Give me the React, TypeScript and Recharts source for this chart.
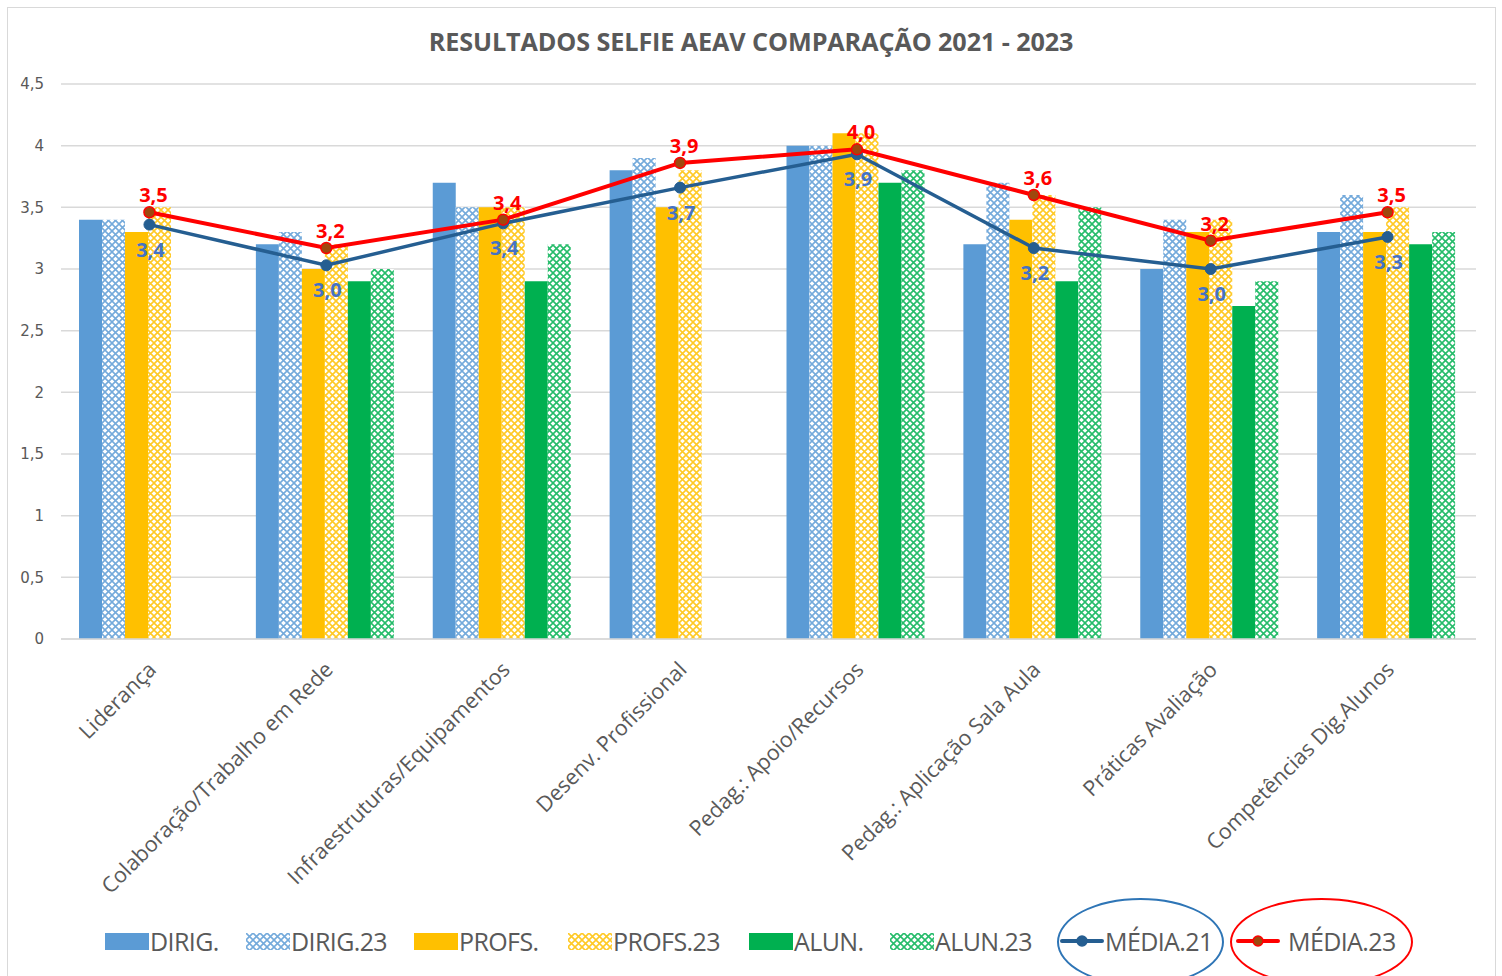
import React from 'react';
import { ComposedChart, Bar, Line, XAxis, YAxis, CartesianGrid, LabelList } from 'recharts';

const categories = [
  'Liderança',
  'Colaboração/Trabalho em Rede',
  'Infraestruturas/Equipamentos',
  'Desenv. Profissional',
  'Pedag.: Apoio/Recursos',
  'Pedag.: Aplicação Sala Aula',
  'Práticas Avaliação',
  'Competências Dig.Alunos',
];
const dirig = [3.4, 3.2, 3.7, 3.8, 4.0, 3.2, 3.0, 3.3];
const dirig23 = [3.4, 3.3, 3.5, 3.9, 4.0, 3.7, 3.4, 3.6];
const profs = [3.3, 3.0, 3.5, 3.5, 4.1, 3.4, 3.3, 3.3];
const profs23 = [3.5, 3.2, 3.5, 3.8, 4.1, 3.6, 3.4, 3.5];
const alun = [null, 2.9, 2.9, null, 3.7, 2.9, 2.7, 3.2];
const alun23 = [null, 3.0, 3.2, null, 3.8, 3.5, 2.9, 3.3];
const media21 = [3.36, 3.03, 3.37, 3.66, 3.93, 3.17, 3.0, 3.26];
const media23 = [3.46, 3.17, 3.4, 3.86, 3.97, 3.6, 3.23, 3.46];
const yTicks = [0, 0.5, 1, 1.5, 2, 2.5, 3, 3.5, 4, 4.5];

const BLUE = '#5B9BD5';
const GOLD = '#FFC000';
const GREEN = '#00B050';
const NAVY = '#255E91';
const RED = '#FF0000';
const GREY = '#595959';

const data = categories.map((name, i) => ({
  name,
  dirig: dirig[i],
  dirig23: dirig23[i],
  profs: profs[i],
  profs23: profs23[i],
  alun: alun[i],
  alun23: alun23[i],
  media21: media21[i],
  media23: media23[i],
}));

const fmt = (v: number) => v.toFixed(1).replace('.', ',');

const Hatch = ({ id, color }: { id: string; color: string }) => (
  <pattern id={id} width="7" height="7" patternUnits="userSpaceOnUse">
    <rect width="7" height="7" fill="#fff" />
    <path d="M0,0 L7,7 M7,0 L0,7" stroke={color} strokeWidth="1.6" opacity="0.85" />
  </pattern>
);

const CategoryTick = ({ x, y, payload }: any) => (
  <text
    x={x + 8}
    y={y + 24}
    transform={`rotate(-45, ${x + 8}, ${y + 24})`}
    textAnchor="end"
    fill={GREY}
    fontSize={21.5}
    fontFamily="'Open Sans', sans-serif"
  >
    {payload.value}
  </text>
);

const TopLabel = ({ x, y, value }: any) => (
  <text x={x + 4} y={y - 10} textAnchor="middle" fill={RED} fontSize={20} fontWeight="bold" fontFamily="'Open Sans', sans-serif">
    {fmt(value)}
  </text>
);

const BottomLabel = ({ x, y, value }: any) => (
  <text x={x + 1} y={y + 32} textAnchor="middle" fill="#4472C4" fontSize={20} fontWeight="bold" fontFamily="'Open Sans', sans-serif">
    {fmt(value)}
  </text>
);

const legendItems = [
  { label: 'DIRIG.', fill: BLUE, left: 105 },
  { label: 'DIRIG.23', fill: 'url(#h-blue)', left: 246 },
  { label: 'PROFS.', fill: GOLD, left: 414 },
  { label: 'PROFS.23', fill: 'url(#h-gold)', left: 568 },
  { label: 'ALUN.', fill: GREEN, left: 749 },
  { label: 'ALUN.23', fill: 'url(#h-green)', left: 890 },
];

const legendText: React.CSSProperties = {
  marginLeft: 1,
  fontFamily: "'Open Sans', sans-serif",
  fontSize: 25,
  color: GREY,
  lineHeight: '30px',
  letterSpacing: -0.6,
};

const LineKey = ({ color, dot }: { color: string; dot: string }) => (
  <svg width="44" height="16" style={{ display: 'block' }}>
    <line x1="2" y1="8" x2="42" y2="8" stroke={color} strokeWidth="4" strokeLinecap="round" />
    <circle cx="22" cy="8" r="5" fill={dot} stroke={color} strokeWidth="1.5" />
  </svg>
);

const App = () => {
  return (
    <div style={{ position: 'absolute', left: 0, top: 0, width: 1502, height: 976, background: '#fff', overflow: 'hidden' }}>
      <svg width="0" height="0" style={{ position: 'absolute' }}>
        <defs>
          <Hatch id="h-blue" color={BLUE} />
          <Hatch id="h-gold" color={GOLD} />
          <Hatch id="h-green" color={GREEN} />
        </defs>
      </svg>
      <div style={{ position: 'absolute', left: 7, top: 7, width: 1489, height: 1000, border: '1.5px solid #D9D9D9', boxSizing: 'border-box' }} />
      <div
        style={{
          position: 'absolute', left: 0, top: 24, width: 1502, textAlign: 'center',
          fontFamily: "'Open Sans', sans-serif", fontWeight: 'bold', fontSize: 25.2, color: GREY,
          letterSpacing: -0.1,
        }}
      >
        RESULTADOS SELFIE AEAV COMPARAÇÃO 2021 - 2023
      </div>
      <div style={{ position: 'absolute', left: 0, top: 0 }}>
        <ComposedChart
          width={1502}
          height={976}
          data={data}
          margin={{ top: 84, right: 26, bottom: 0, left: 0 }}
          barCategoryGap={18}
          barGap={0}
        >
          <CartesianGrid vertical={false} stroke="#D9D9D9" strokeWidth={1.5} />
          <XAxis
            dataKey="name"
            height={337}
            interval={0}
            tickLine={false}
            axisLine={{ stroke: '#D9D9D9', strokeWidth: 1.5 }}
            tick={<CategoryTick />}
          />
          <YAxis
            width={61}
            domain={[0, 4.5]}
            ticks={yTicks}
            axisLine={false}
            tickLine={false}
            tickMargin={11}
            tickFormatter={(v: number) => String(v).replace('.', ',')}
            tick={{ fill: GREY, fontSize: 15, fontFamily: "'DejaVu Sans', sans-serif" }}
          />
          <Bar dataKey="dirig" fill={BLUE} isAnimationActive={false} />
          <Bar dataKey="dirig23" fill="url(#h-blue)" isAnimationActive={false} />
          <Bar dataKey="profs" fill={GOLD} isAnimationActive={false} />
          <Bar dataKey="profs23" fill="url(#h-gold)" isAnimationActive={false} />
          <Bar dataKey="alun" fill={GREEN} isAnimationActive={false} />
          <Bar dataKey="alun23" fill="url(#h-green)" isAnimationActive={false} />
          <Line
            dataKey="media21"
            stroke={NAVY}
            strokeWidth={3.5}
            dot={{ r: 5.5, fill: NAVY, stroke: NAVY, strokeWidth: 1 }}
            isAnimationActive={false}
          >
            <LabelList dataKey="media21" content={<BottomLabel />} />
          </Line>
          <Line
            dataKey="media23"
            stroke={RED}
            strokeWidth={4}
            dot={{ r: 5.5, fill: '#9E480E', stroke: RED, strokeWidth: 1.5 }}
            isAnimationActive={false}
          >
            <LabelList dataKey="media23" content={<TopLabel />} />
          </Line>
        </ComposedChart>
      </div>
      {legendItems.map((it) => (
        <div key={it.label} style={{ position: 'absolute', left: it.left, top: 926, display: 'flex', alignItems: 'center' }}>
          <svg width="44" height="17" style={{ display: 'block' }}>
            <rect width="44" height="17" fill={it.fill} />
          </svg>
          <span style={legendText}>{it.label}</span>
        </div>
      ))}
      <div style={{ position: 'absolute', left: 1060, top: 926, display: 'flex', alignItems: 'center' }}>
        <LineKey color={NAVY} dot={NAVY} />
        <span style={legendText}>MÉDIA.21</span>
      </div>
      <div style={{ position: 'absolute', left: 1236, top: 926, display: 'flex', alignItems: 'center' }}>
        <LineKey color={RED} dot="#9E480E" />
        <span style={{ ...legendText, marginLeft: 8 }}>MÉDIA.23</span>
      </div>
      <div style={{ position: 'absolute', left: 1057, top: 898, width: 167, height: 88, border: '2px solid #2E75B6', borderRadius: '50%', boxSizing: 'border-box' }} />
      <div style={{ position: 'absolute', left: 1230, top: 898, width: 183, height: 88, border: '2px solid #FF0000', borderRadius: '50%', boxSizing: 'border-box' }} />
    </div>
  );
};

export default App;
